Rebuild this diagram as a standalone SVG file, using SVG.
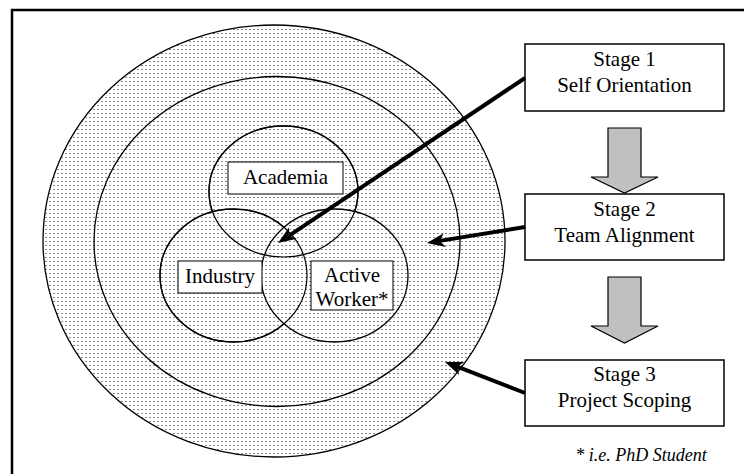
<svg xmlns="http://www.w3.org/2000/svg" width="744" height="474" viewBox="0 0 744 474">
<defs>
<pattern id="dots" width="4" height="4" patternUnits="userSpaceOnUse">
<rect width="4" height="4" fill="#fff"/>
<rect x="1" y="1" width="2" height="1" fill="#8a8a8a"/>
</pattern>
<marker id="ah" markerUnits="userSpaceOnUse" markerWidth="20" markerHeight="16" refX="5" refY="7" orient="auto" viewBox="0 0 20 16">
<path d="M0,0 L18,7 L0,14 L5,7 Z" fill="#000"/>
</marker>
<style>
.ring{fill:url(#dots);stroke:#000;stroke-width:1.3}
.circ{fill:none;stroke:#000;stroke-width:1.2}
.lbl{fill:#fff;stroke:#000;stroke-width:1}
.stage{fill:#fff;stroke:#000;stroke-width:1.5}
text{font-family:'Liberation Serif','Times New Roman','DejaVu Serif',serif}
.t{font-size:21px;fill:#000;text-anchor:middle}
.fn{font-size:18px;font-style:italic;fill:#000;text-anchor:middle}
.blk{fill:#c0c0c0;stroke:#000;stroke-width:1.2}
.con{stroke:#000;stroke-width:4;fill:none;marker-end:url(#ah)}
</style>
</defs>
<rect x="12" y="10" width="760" height="500" fill="#fff" stroke="#000" stroke-width="2.5"/>
<g id="outer-ring"><ellipse class="ring" cx="274" cy="241" rx="231" ry="216"/></g>
<g id="middle-ring"><ellipse class="ring" cx="277" cy="241.5" rx="183" ry="165"/></g>
<g id="academia">
<ellipse class="ring" cx="283.5" cy="191.5" rx="74.5" ry="65.5"/>
</g>
<g id="industry">
<ellipse class="ring" cx="233.5" cy="275.5" rx="73.5" ry="66.5"/>
</g>
<g id="active-worker">
<ellipse class="ring" cx="334.5" cy="275.5" rx="73.5" ry="66.5"/>
</g>
<g id="outlines">
<ellipse class="circ" cx="283.5" cy="191.5" rx="74.5" ry="65.5"/>
<ellipse class="circ" cx="233.5" cy="275.5" rx="73.5" ry="66.5"/>
</g>
<g id="academia-label">
<rect class="lbl" x="228" y="162" width="115" height="32"/>
<text class="t" x="285.5" y="184">Academia</text>
</g>
<g id="industry-label">
<rect class="lbl" x="178" y="261" width="84" height="32"/>
<text class="t" x="220" y="283">Industry</text>
</g>
<g id="active-worker-label">
<rect class="lbl" x="311" y="261" width="82" height="49"/>
<text class="t" x="352" y="282">Active</text>
<text class="t" x="352" y="305.5">Worker*</text>
</g>
<g id="stage1">
<rect class="stage" x="525" y="44" width="199" height="67"/>
<text class="t" x="624.5" y="66">Stage 1</text>
<text class="t" x="624.5" y="92">Self Orientation</text>
</g>
<g id="stage2">
<rect class="stage" x="525" y="194" width="199" height="66"/>
<text class="t" x="624.5" y="215.5">Stage 2</text>
<text class="t" x="624.5" y="241.5">Team Alignment</text>
</g>
<g id="stage3">
<rect class="stage" x="525" y="360" width="199" height="66"/>
<text class="t" x="624.5" y="381">Stage 3</text>
<text class="t" x="624.5" y="407">Project Scoping</text>
</g>
<text class="fn" x="641" y="461">* i.e. PhD Student</text>
<g id="connectors">
<polygon class="blk" points="608,128 641,128 641,177 658,177 624.5,193 591,177 608,177"/>
<polygon class="blk" points="608,277 641,277 641,326 658,326 624.5,343 591,326 608,326"/>
<line class="con" x1="525" y1="78" x2="288.8" y2="235.8"/>
<line class="con" x1="525" y1="227" x2="439.8" y2="240.9"/>
<line class="con" x1="525" y1="393" x2="457.1" y2="366.7"/>
</g>
</svg>
